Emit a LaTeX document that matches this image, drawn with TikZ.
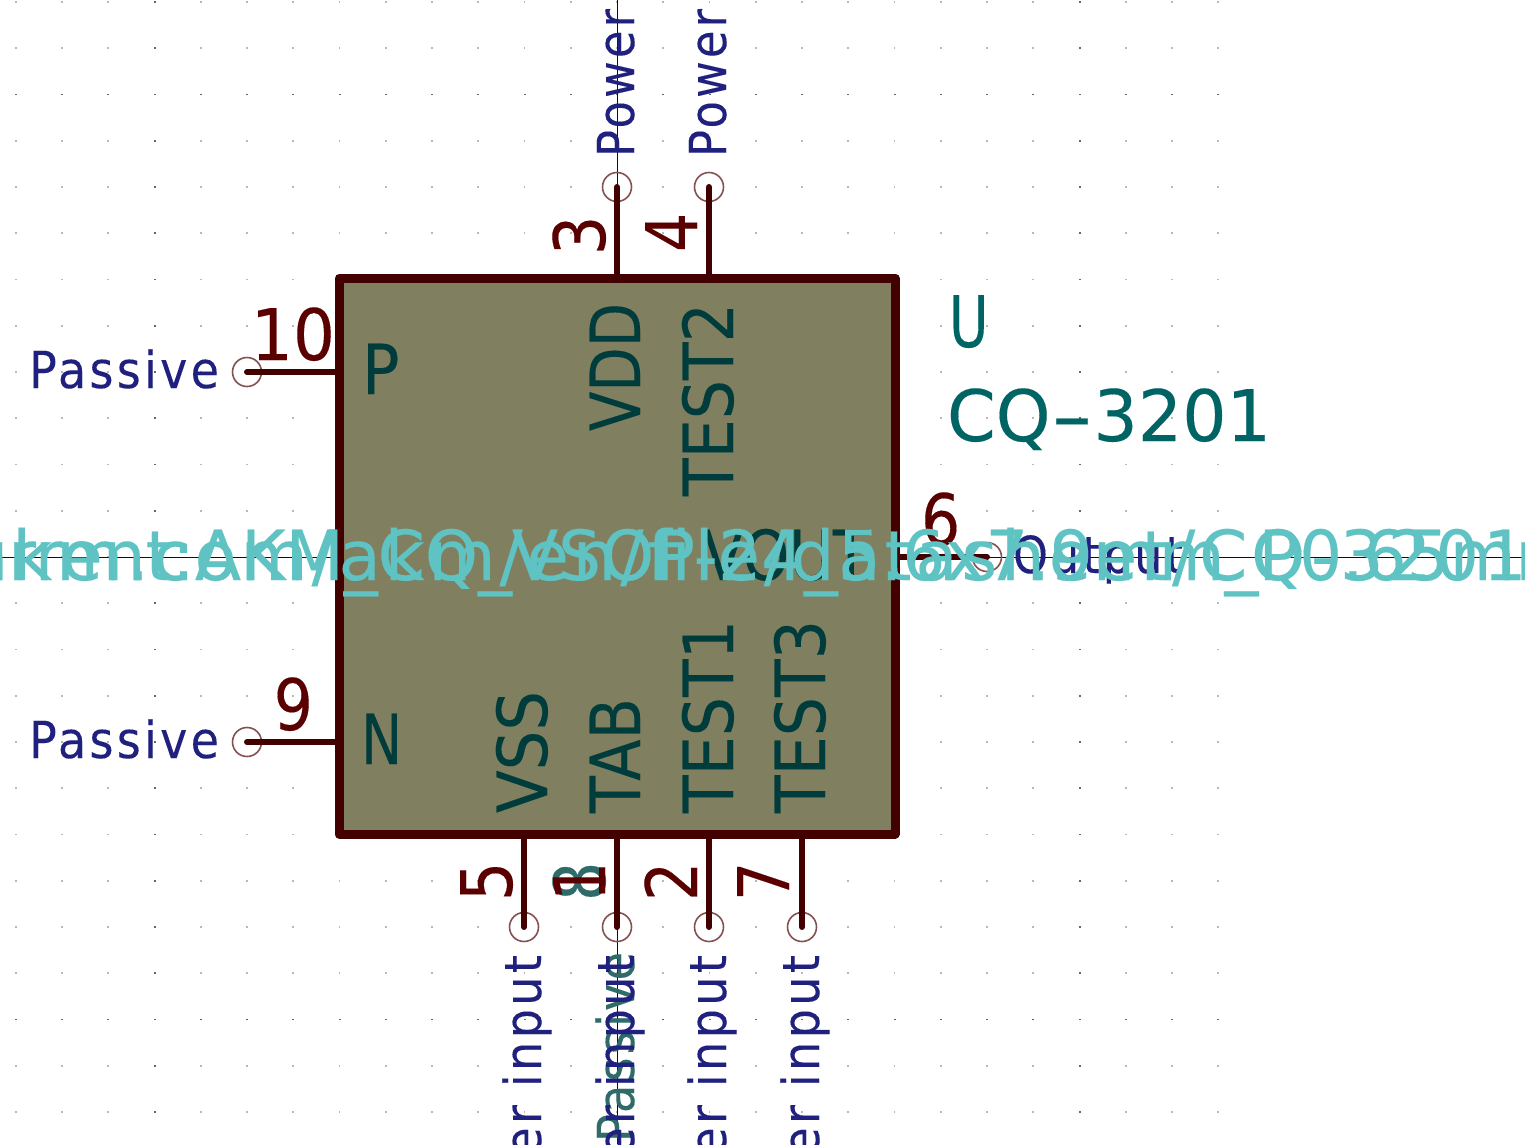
\documentclass[tikz,border=0pt]{standalone}
\usepackage{fontspec}
\setmainfont{DejaVu Sans}
\usepackage{graphicx}
\definecolor{pinc}{HTML}{420000}
\definecolor{numc}{HTML}{5A0000}
\definecolor{namec}{HTML}{003C3C}
\definecolor{fieldc}{HTML}{006464}
\definecolor{typec}{HTML}{20207E}
\definecolor{hidc}{HTML}{5FC3C3}
\definecolor{tealc}{HTML}{2F6B68}
\definecolor{boxf}{HTML}{808060}
\definecolor{circc}{HTML}{845050}
\definecolor{axisc}{HTML}{00008A}
\newcommand{\kw}[3]{\resizebox{#1pt}{\height}{\fontsize{#2}{#2}\selectfont\addfontfeature{FakeBold=0.2}#3}}
\newcommand{\ks}[3]{\resizebox{#1pt}{\height}{\fontsize{#2}{#2}\selectfont\addfontfeature{LetterSpace=7,FakeBold=0.1}#3}}
\newcommand{\kt}[3]{\scalebox{#1}[1]{\fontsize{#2}{#2}\selectfont\addfontfeature{FakeBold=0.2}#3}}
\tikzset{
  txt/.style={inner sep=0pt,outer sep=0pt},
  pincirc/.style={circle,draw=circc,line width=1.6pt,minimum size=29pt,inner sep=0pt,outer sep=0pt},
  pinline/.style={draw=pinc,line width=6pt,line cap=round},
  ubox/.style={draw=pinc,fill=boxf,line width=9pt,line join=round,minimum width=556pt,minimum height=556pt,inner sep=0pt,outer sep=0pt},
  griddot/.style={fill=black!28},
  griddark/.style={fill=black!60},
  axisl/.style={draw=axisc,line width=1pt},
}
\begin{document}
\begin{tikzpicture}[x=1pt,y=-1pt]
\useasboundingbox (0,0) rectangle (1525,1144);
\clip (0,0) rectangle (1525,1144);
\fill[white] (0,0) rectangle (1525,1144);
% grid
\foreach \i in {-13,...,13}{
  \foreach \j in {-12,...,12}{
    \pgfmathsetmacro{\gx}{617+46.25*\i}
    \pgfmathsetmacro{\gy}{557+46.25*\j}
    \pgfmathtruncatemacro{\ma}{(mod(abs(\i),10)==0 && \i!=0) || (mod(abs(\j),10)==0 && \j!=0) ? 1 : 0}
    \ifnum\ma=1
      \fill[griddark] (\gx-1,\gy-0.8) rectangle (\gx+1,\gy+0.8);
    \else
      \fill[griddot] (\gx-0.8,\gy-0.8) rectangle (\gx+0.8,\gy+0.8);
    \fi
  }
}
% axes
\coordinate (axL) at (0,557); \coordinate (axR) at (1525,557);
\coordinate (axT) at (617,0); \coordinate (axB) at (617,1144);
\draw[axisl] (axL) -- (axR);
\draw[axisl] (axT) -- (axB);
% pin ends
\node[pincirc] (pP) at (247,372) {};
\node[pincirc] (pN) at (247,742) {};
\node[pincirc] (p3) at (617,187) {};
\node[pincirc] (p4) at (709,187) {};
\node[pincirc] (p5) at (524,927) {};
\node[pincirc] (p1) at (617,927) {};
\node[pincirc] (p2) at (709,927) {};
\node[pincirc] (p7) at (802,927) {};
\node[pincirc] (p6) at (987,557) {};
\node[ubox,draw=none,fill=none] (U) at (617,556) {};
\draw[pinline] (pP.center) -- (pP.center -| U.west);
\draw[pinline] (pN.center) -- (pN.center -| U.west);
\draw[pinline] (p3.center) -- (p3.center |- U.north);
\draw[pinline] (p4.center) -- (p4.center |- U.north);
\draw[pinline] (p5.center) -- (p5.center |- U.south);
\draw[pinline] (p1.center) -- (p1.center |- U.south);
\draw[pinline] (p2.center) -- (p2.center |- U.south);
\draw[pinline] (p7.center) -- (p7.center |- U.south);
\draw[pinline] (p6.center) -- (p6.center -| U.east);
\node[ubox] (Ubox) at (617,556) {};
% pin types
\node[txt,text=typec,anchor=base west] (tP) at (29,388) {\ks{190}{51}{Passive}};
\node[txt,text=typec,anchor=base west] (tN) at (29,758) {\ks{190}{51}{Passive}};
\node[txt,text=typec,anchor=base west,rotate=90] (t3) at (634,157) {\ks{148}{51}{Power}};
\node[txt,text=typec,anchor=base west,rotate=90] (t4) at (726,157) {\ks{148}{51}{Power}};
\node[txt,text=typec,anchor=base east,rotate=90] (t5) at (541,955) {\ks{303}{51}{Power input}};
\node[txt,text=tealc,anchor=base east,rotate=90] (t8) at (634,952) {\ks{190}{51}{Passive}};
\node[txt,text=typec,anchor=base east,rotate=90] (t1) at (634,955) {\ks{303}{51}{Power input}};
\node[txt,text=typec,anchor=base east,rotate=90] (t2) at (726,955) {\ks{303}{51}{Power input}};
\node[txt,text=typec,anchor=base east,rotate=90] (t7) at (819,955) {\ks{303}{51}{Power input}};
\node[txt,text=typec,anchor=base west] (t6) at (1013,573) {\ks{170}{51}{Output}};
% pin numbers
\node[txt,text=numc,anchor=base east] (n10) at (335,360) {\kt{0.93}{71}{10}};
\node[txt,text=numc,anchor=base east] (n9) at (313,730) {\kt{0.87}{71}{9}};
\node[txt,text=numc,anchor=base west] (n6) at (921,545) {\kt{0.87}{71}{6}};
\node[txt,text=numc,anchor=base west,rotate=90] (n3) at (605,255) {\kt{0.87}{71}{3}};
\node[txt,text=numc,anchor=base west,rotate=90] (n4) at (697,252) {\kt{0.87}{71}{4}};
\node[txt,text=numc,anchor=base west,rotate=90] (n5) at (512,901) {\kt{0.87}{71}{5}};
\node[txt,text=tealc,anchor=base west,rotate=90] (n8) at (605,901) {\kt{0.87}{71}{8}};
\node[txt,text=numc,anchor=base west,rotate=90] (n1) at (605,901) {\kt{0.87}{71}{1}};
\node[txt,text=numc,anchor=base west,rotate=90] (n2) at (697,901) {\kt{0.87}{71}{2}};
\node[txt,text=numc,anchor=base west,rotate=90] (n7) at (789,901) {\kt{0.87}{71}{7}};
% pin names
\node[txt,text=namec,anchor=base west] (lP) at (362,394) {\kt{0.9}{69}{P}};
\node[txt,text=namec,anchor=base west] (lN) at (361,764) {\kt{0.8}{69}{N}};
\node[txt,text=namec,anchor=base east] (lV) at (869,580) {\kw{166}{69}{VOUT}};
\node[txt,text=namec,anchor=base east,rotate=90] (lD) at (640,303) {\kw{128}{69}{VDD}};
\node[txt,text=namec,anchor=base east,rotate=90] (lT2) at (733,303) {\kw{193}{69}{TEST2}};
\node[txt,text=namec,anchor=base west,rotate=90] (lS) at (547,813) {\kw{122}{69}{VSS}};
\node[txt,text=namec,anchor=base west,rotate=90] (lA) at (640,813) {\kw{115}{69}{TAB}};
\node[txt,text=namec,anchor=base west,rotate=90] (lT1) at (733,813) {\kw{193}{69}{TEST1}};
\node[txt,text=namec,anchor=base west,rotate=90] (lT3) at (825,813) {\kw{193}{69}{TEST3}};
% fields
\node[txt,text=fieldc,anchor=base west] (fU) at (949,347) {\kt{0.76}{71}{U}};
\node[txt,text=fieldc,anchor=base west] (fV) at (947,441) {\kw{324}{71}{CQ\scalebox{1.7}[1]{-}3201}};
\node[txt,text=hidc,anchor=base] (fF) at (617,580) {\kt{0.98}{69}{Sensor\_Current:AKM\_CQ\_VSOP-24\_5.6x7.9mm\_P0.65mm}};
\node[txt,text=hidc,anchor=base] (fD) at (582,580) {\kt{1}{69}{\addfontfeature{LetterSpace=5.5,FakeBold=0.2}https://www.akm.com/akm/en/file/datasheet/CQ-3201.pdf}};
\end{tikzpicture}
\end{document}
